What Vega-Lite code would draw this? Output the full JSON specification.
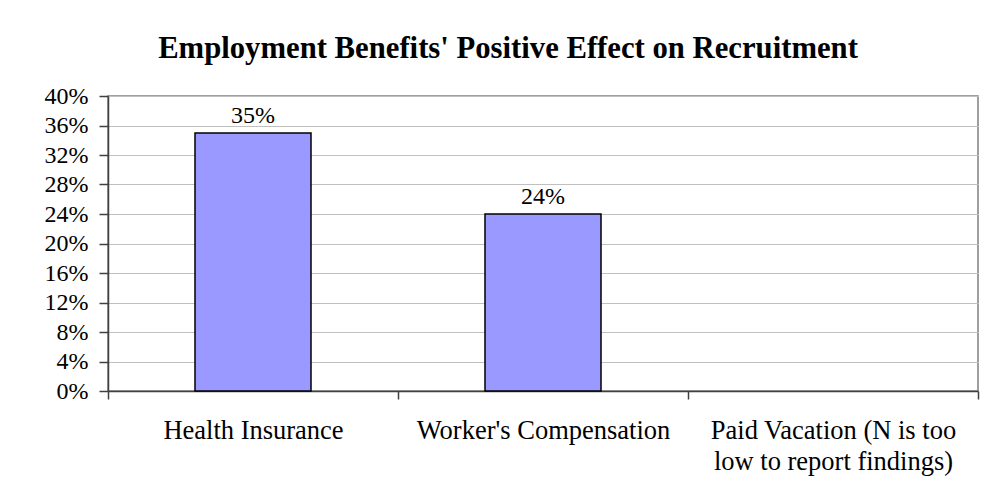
{
  "$schema": "https://vega.github.io/schema/vega-lite/v6.json",
  "autosize": "none",
  "width": 870,
  "height": 295,
  "padding": {"left": 108, "top": 96, "right": 19, "bottom": 104},
  "background": "white",
  "config": {
    "font": "Liberation Serif",
    "view": {"stroke": "#808080", "strokeWidth": 1.5}
  },
  "title": {
    "text": "Employment Benefits' Positive Effect on Recruitment",
    "font": "Liberation Serif",
    "fontSize": 30.7,
    "fontWeight": "bold",
    "color": "black",
    "anchor": "middle",
    "frame": "group",
    "dx": -35,
    "offset": 19
  },
  "data": {
    "values": [
      {"benefit": "Health Insurance", "share": 0.35, "label": "35%"},
      {"benefit": "Worker's Compensation", "share": 0.24, "label": "24%"},
      {"benefit": "Paid Vacation (N is too low to report findings)", "share": null, "label": ""}
    ]
  },
  "encoding": {
    "x": {
      "field": "benefit",
      "type": "nominal",
      "sort": null,
      "scale": {
        "domain": ["Health Insurance", "Worker's Compensation", "Paid Vacation (N is too low to report findings)"],
        "paddingInner": 0,
        "paddingOuter": 0
      },
      "axis": {
        "title": null,
        "labelAngle": 0,
        "labelFont": "Liberation Serif",
        "labelFontSize": 26.5,
        "labelColor": "black",
        "labelBaseline": "top",
        "labelPadding": 18,
        "labelLineHeight": 31,
        "labelLimit": 400,
        "labelExpr": "datum.label == 'Paid Vacation (N is too low to report findings)' ? ['Paid Vacation (N is too', 'low to report findings)'] : datum.label",
        "tickBand": "extent",
        "tickSize": 8,
        "tickColor": "#404040",
        "tickWidth": 1.5,
        "domainColor": "#404040",
        "domainWidth": 1.5,
        "grid": false
      }
    }
  },
  "layer": [
    {
      "mark": {"type": "bar", "width": {"band": 0.4}, "fill": "#9999FF", "stroke": "black", "strokeWidth": 1.5},
      "encoding": {
        "y": {
          "field": "share",
          "type": "quantitative",
          "scale": {"domain": [0, 0.4], "nice": false},
          "axis": {
            "title": null,
            "format": ".0%",
            "values": [0, 0.04, 0.08, 0.12, 0.16, 0.2, 0.24, 0.28, 0.32, 0.36, 0.4],
            "tickCount": 20,
            "labelOverlap": false,
            "labelFont": "Liberation Serif",
            "labelFontSize": 24,
            "labelColor": "black",
            "labelPadding": 11,
            "tickSize": 9,
            "tickColor": "#404040",
            "tickWidth": 1.5,
            "domainColor": "#404040",
            "domainWidth": 1.5,
            "gridColor": "#c0c0c0",
            "gridWidth": 1
          }
        }
      }
    },
    {
      "mark": {"type": "text", "font": "Liberation Serif", "fontSize": 24, "color": "black", "baseline": "alphabetic", "dy": -10},
      "encoding": {
        "y": {"field": "share", "type": "quantitative"},
        "text": {"field": "label"}
      }
    }
  ]
}
